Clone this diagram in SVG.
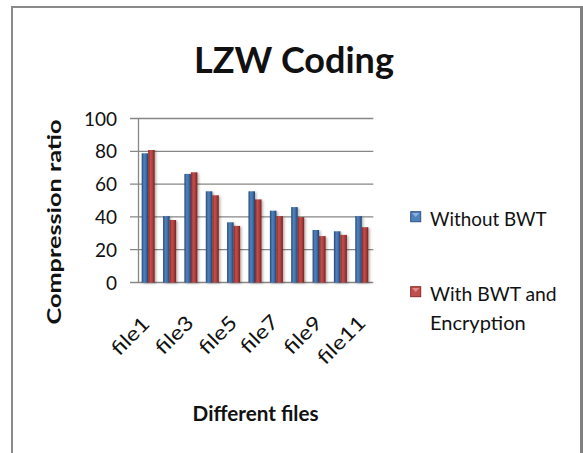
<svg xmlns="http://www.w3.org/2000/svg" width="583" height="453" viewBox="0 0 583 453">
<defs>
<linearGradient id="gb" x1="0" y1="0" x2="1" y2="0">
<stop offset="0" stop-color="#25466f"/><stop offset="0.35" stop-color="#4f81bd"/><stop offset="0.65" stop-color="#3f70ad"/><stop offset="1" stop-color="#223f66"/>
</linearGradient>
<linearGradient id="gr" x1="0" y1="0" x2="1" y2="0">
<stop offset="0" stop-color="#862522"/><stop offset="0.35" stop-color="#c0504d"/><stop offset="0.65" stop-color="#ad403d"/><stop offset="1" stop-color="#7a201e"/>
</linearGradient>
<filter id="sh" x="-30%" y="-10%" width="180%" height="130%">
<feDropShadow dx="1.5" dy="1" stdDeviation="1" flood-color="#000" flood-opacity="0.3"/>
</filter>
</defs>
<style>
.grid{stroke:#878787;stroke-width:1.3;fill:none}
.b{fill:url(#gb)}
.r{fill:url(#gr)}
.hb{fill:#6f9ad0}
.hr{fill:#d87774}
.t{font-family:Lato,"Liberation Sans",sans-serif;fill:#111}
.yl{font-size:19px;text-anchor:end}
.xl{font-size:20px;text-anchor:end}
.lg{font-size:19px}
</style>
<rect width="583" height="453" fill="#fff"/>
<g id="frame">
<path d="M12,453 V7 H581" fill="none" stroke="#8a8a8a" stroke-width="2"/>
<line x1="581.5" y1="6" x2="581.5" y2="453" stroke="#808080" stroke-width="3"/>
</g>
<text id="title" class="t" x="294" y="72.5" font-size="36" font-weight="bold" text-anchor="middle">LZW Coding</text>
<g id="grid">
<line class="grid" x1="130" y1="118.5" x2="373.3" y2="118.5"/>
<line class="grid" x1="130" y1="151.3" x2="373.3" y2="151.3"/>
<line class="grid" x1="130" y1="184.1" x2="373.3" y2="184.1"/>
<line class="grid" x1="130" y1="216.9" x2="373.3" y2="216.9"/>
<line class="grid" x1="130" y1="249.7" x2="373.3" y2="249.7"/>
<line class="grid" x1="130" y1="282.5" x2="373.3" y2="282.5"/>
<line class="grid" x1="138.5" y1="118.5" x2="138.5" y2="282.5"/>
</g>
<g id="ylabels" class="t yl">
<text x="117" y="125.5">100</text>
<text x="117" y="158.3">80</text>
<text x="117" y="191.1">60</text>
<text x="117" y="223.9">40</text>
<text x="117" y="256.7">20</text>
<text x="117" y="289.5">0</text>
</g>
<g id="bars" filter="url(#sh)">
<rect class="b" x="141.7" y="153.3" width="6.5" height="129.2"/><rect class="r" x="148.2" y="150" width="6.5" height="132.5"/>
<rect class="b" x="163.1" y="216.1" width="6.5" height="66.4"/><rect class="r" x="169.6" y="220" width="6.5" height="62.5"/>
<rect class="b" x="184.4" y="173.9" width="6.5" height="108.6"/><rect class="r" x="190.9" y="172.3" width="6.5" height="110.2"/>
<rect class="b" x="205.8" y="191.3" width="6.5" height="91.2"/><rect class="r" x="212.3" y="195.3" width="6.5" height="87.2"/>
<rect class="b" x="227.1" y="222.3" width="6.5" height="60.2"/><rect class="r" x="233.6" y="225.9" width="6.5" height="56.6"/>
<rect class="b" x="248.5" y="191.3" width="6.5" height="91.2"/><rect class="r" x="255" y="199.4" width="6.5" height="83.1"/>
<rect class="b" x="269.9" y="210.7" width="6.5" height="71.8"/><rect class="r" x="276.4" y="216.1" width="6.5" height="66.4"/>
<rect class="b" x="291.2" y="207.1" width="6.5" height="75.4"/><rect class="r" x="297.7" y="217.1" width="6.5" height="65.4"/>
<rect class="b" x="312.6" y="230" width="6.5" height="52.5"/><rect class="r" x="319.1" y="236.1" width="6.5" height="46.4"/>
<rect class="b" x="333.9" y="231.3" width="6.5" height="51.2"/><rect class="r" x="340.4" y="234.9" width="6.5" height="47.6"/>
<rect class="b" x="355.3" y="216.1" width="6.5" height="66.4"/><rect class="r" x="361.8" y="227.2" width="6.5" height="55.3"/>
</g>
<g id="xlabels" class="t xl">
<text transform="translate(151,325) rotate(-45)" textLength="45" lengthAdjust="spacingAndGlyphs">file1</text>
<text transform="translate(195,324) rotate(-45)" textLength="45" lengthAdjust="spacingAndGlyphs">file3</text>
<text transform="translate(238.5,324) rotate(-45)" textLength="45" lengthAdjust="spacingAndGlyphs">file5</text>
<text transform="translate(280,323) rotate(-45)" textLength="45" lengthAdjust="spacingAndGlyphs">file7</text>
<text transform="translate(323.5,324) rotate(-45)" textLength="45" lengthAdjust="spacingAndGlyphs">file9</text>
<text transform="translate(367,324) rotate(-45)" textLength="59" lengthAdjust="spacingAndGlyphs">file11</text>
</g>
<text id="ytitle" class="t" transform="translate(61,222) rotate(-90)" font-size="19" font-weight="bold" text-anchor="middle" textLength="205" lengthAdjust="spacingAndGlyphs">Compression ratio</text>
<text id="xtitle" class="t" x="255.6" y="421" font-size="20" font-weight="bold" text-anchor="middle" textLength="126" lengthAdjust="spacingAndGlyphs">Different files</text>
<g id="legend-blue">
<rect x="410.7" y="211.7" width="10" height="10" fill="#4f81bd" stroke="#2d5386" stroke-width="1"/>
<polygon points="412,213 419.4,213 415.7,217" fill="#8db1de"/>
<text class="t lg" x="430" y="225.5" textLength="116.7" lengthAdjust="spacingAndGlyphs">Without BWT</text>
</g>
<g id="legend-red">
<rect x="410.7" y="286.7" width="10" height="10" fill="#c0504d" stroke="#8a2b28" stroke-width="1"/>
<polygon points="412,288 419.4,288 415.7,292" fill="#e08a87"/>
<text class="t lg" x="430" y="300.7" textLength="126.7" lengthAdjust="spacingAndGlyphs">With BWT and</text>
<text class="t lg" x="430" y="329.5" textLength="95.7" lengthAdjust="spacingAndGlyphs">Encryption</text>
</g>
</svg>
